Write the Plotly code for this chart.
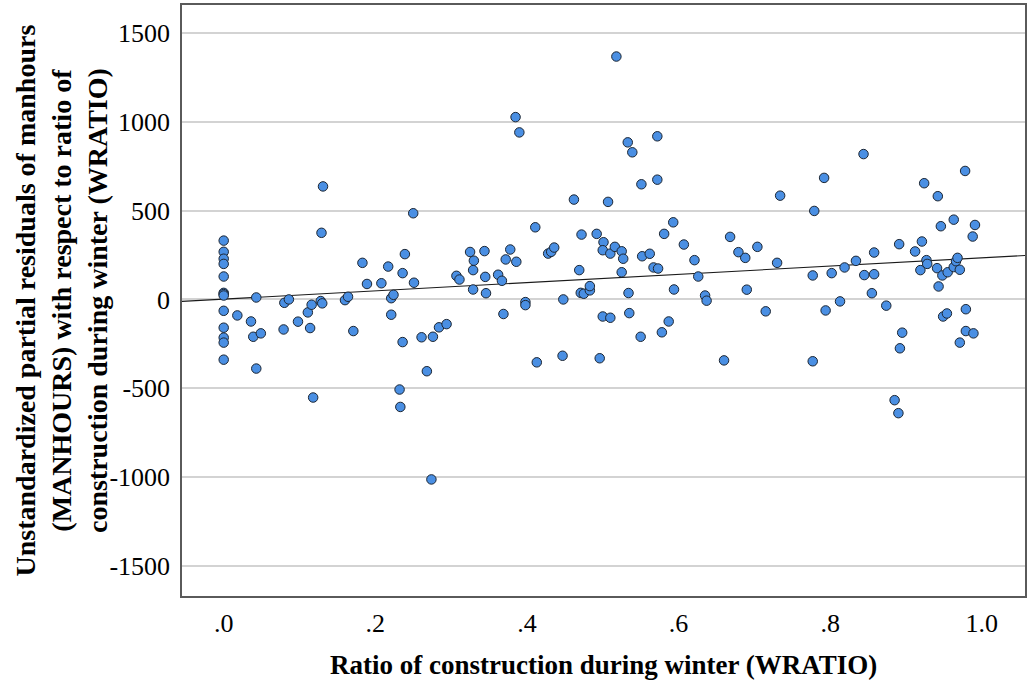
import plotly.graph_objects as go

# Ratio of construction during winter (WRATIO)
wratio = [
    0, 0, 0, 0, 0, 0, 0, 0, 0, 0, 0, 0, 0,
    0.018, 0.036, 0.039, 0.049, 0.043, 0.043, 0.080, 0.086, 0.079, 0.098,
    0.114, 0.111, 0.116, 0.118, 0.128, 0.130, 0.131, 0.129, 0.160, 0.164,
    0.171, 0.183, 0.189, 0.208, 0.217, 0.239, 0.236, 0.250, 0.251, 0.221,
    0.224, 0.221, 0.236, 0.232, 0.233, 0.261, 0.276, 0.268, 0.284, 0.294,
    0.274, 0.307, 0.311, 0.325, 0.330, 0.329, 0.329, 0.344, 0.345, 0.346,
    0.362, 0.367, 0.372, 0.378, 0.386, 0.369, 0.385, 0.390, 0.398, 0.398,
    0.411, 0.413, 0.428, 0.432, 0.436, 0.448, 0.447, 0.462, 0.469, 0.472,
    0.471, 0.475, 0.483, 0.483, 0.492, 0.496, 0.500, 0.510, 0.501, 0.500,
    0.507, 0.510, 0.516, 0.518, 0.525, 0.527, 0.525, 0.533, 0.539, 0.534,
    0.535, 0.550, 0.551, 0.552, 0.562, 0.567, 0.573, 0.572, 0.572, 0.578,
    0.581, 0.587, 0.593, 0.594, 0.607, 0.621, 0.626, 0.635, 0.637, 0.660,
    0.668, 0.679, 0.688, 0.690, 0.704, 0.715, 0.730, 0.734, 0.777, 0.777,
    0.779, 0.792, 0.794, 0.802, 0.813, 0.819, 0.834, 0.844, 0.845, 0.855,
    0.858, 0.858, 0.874, 0.885, 0.890, 0.891, 0.892, 0.895, 0.912, 0.919,
    0.921, 0.924, 0.927, 0.928, 0.941, 0.942, 0.943, 0.946, 0.948, 0.949,
    0.954, 0.955, 0.963, 0.963, 0.966, 0.968, 0.971, 0.971, 0.978, 0.979,
    0.979, 0.988, 0.989, 0.991,
]

# Unstandardized partial residuals of MANHOURS
residual = [
    331, 268, 229, 200, 129, 37, 30, 22, -64, -159, -215, -243, -339,
    -90, -124, -210, -191, -389, 11, -19, 0, -169, -125,
    -161, -73, -30, -552, -9, -22, 636, 375, -4, 15,
    -178, 206, 87, 91, 185, 255, 148, 485, 94, 7,
    26, -86, -240, -507, -605, -213, -210, -404, -157, -139,
    -1013, 133, 112, 267, 218, 165, 56, 272, 127, 35,
    139, 105, 225, 281, 212, -82, 1026, 940, -15, -32,
    406, -354, 258, 268, 292, 0, -317, 562, 165, 365,
    37, 32, 51, 75, 369, -331, -96, -103, 322, 277,
    549, 258, 296, 1367, 271, 229, 153, 884, 828, 36,
    -77, -210, 648, 243, 257, 180, 174, 918, 674, -185,
    369, -124, 434, 56, 309, 221, 129, 22, -7, -343,
    352, 266, 234, 55, 296, -67, 206, 584, 135, -348,
    498, 684, -62, 148, -11, 180, 217, 818, 137, 35,
    142, 264, -35, -567, -640, 311, -275, -187, 270, 165,
    326, 654, 221, 200, 176, 581, 73, 412, 135, -96,
    -79, 153, 182, 449, 215, 234, 167, -243, 723, -55,
    -178, 354, -191, 419,
]

# Fitted partial regression line: residual = intercept + slope * WRATIO
fit_intercept = 2.0
fit_slope = 232.0

x_tick_vals = [0.0, 0.2, 0.4, 0.6, 0.8, 1.0]
x_tick_text = [".0", ".2", ".4", ".6", ".8", "1.0"]
y_tick_vals = [-1500, -1000, -500, 0, 500, 1000, 1500]
y_tick_text = ["-1500", "-1000", "-500", "0", "500", "1000", "1500"]

x_range = [-0.055, 1.057]
y_range = [-1669, 1657]

SERIF = "Liberation Serif, Times New Roman, serif"

fig = go.Figure()

fit_x = list(x_range)
fit_y = [fit_intercept + fit_slope * v for v in fit_x]
fig.add_trace(go.Scatter(
    x=fit_x, y=fit_y, mode="lines",
    line=dict(color="#1a1a1a", width=1.1),
    hoverinfo="skip", showlegend=False,
))

fig.add_trace(go.Scatter(
    x=wratio, y=residual, mode="markers",
    marker=dict(size=9.5, color="#4a8fe3",
                line=dict(color="#1c2633", width=1)),
    showlegend=False,
))

fig.update_layout(
    width=1029, height=684,
    margin=dict(l=182, r=2, t=5, b=88),
    paper_bgcolor="white", plot_bgcolor="white",
    font=dict(family=SERIF, color="black"),
    xaxis=dict(
        range=x_range, tickvals=x_tick_vals, ticktext=x_tick_text,
        showgrid=False, zeroline=False,
        showline=True, linecolor="#5a5a5a", linewidth=1.5, mirror=True,
        ticks="", ticklabelstandoff=3,
        tickfont=dict(family=SERIF, size=26, color="black"),
    ),
    yaxis=dict(
        range=y_range, tickvals=y_tick_vals, ticktext=y_tick_text,
        showgrid=True, gridcolor="#d3d3d3", gridwidth=1.5,
        zeroline=False,
        showline=True, linecolor="#5a5a5a", linewidth=1.5, mirror=True,
        ticks="", ticklabelstandoff=5,
        tickfont=dict(family=SERIF, size=26, color="black"),
    ),
    annotations=[
        dict(
            text="<b>Ratio of construction during winter (WRATIO)</b>",
            xref="paper", yref="paper", x=0.5, y=0,
            xanchor="center", yanchor="middle", yshift=-69,
            showarrow=False, font=dict(family=SERIF, size=27, color="black"),
        ),
        dict(
            text="<b>Unstandardized partial residuals of manhours<br>"
                 "(MANHOURS) with respect to ratio of<br>"
                 "construction during winter (WRATIO)</b>",
            xref="paper", yref="paper", x=0, y=0.5,
            xanchor="center", yanchor="middle", xshift=-121,
            textangle=-90, showarrow=False,
            font=dict(family=SERIF, size=28, color="black"),
        ),
    ],
)

fig.write_html("out.html")
